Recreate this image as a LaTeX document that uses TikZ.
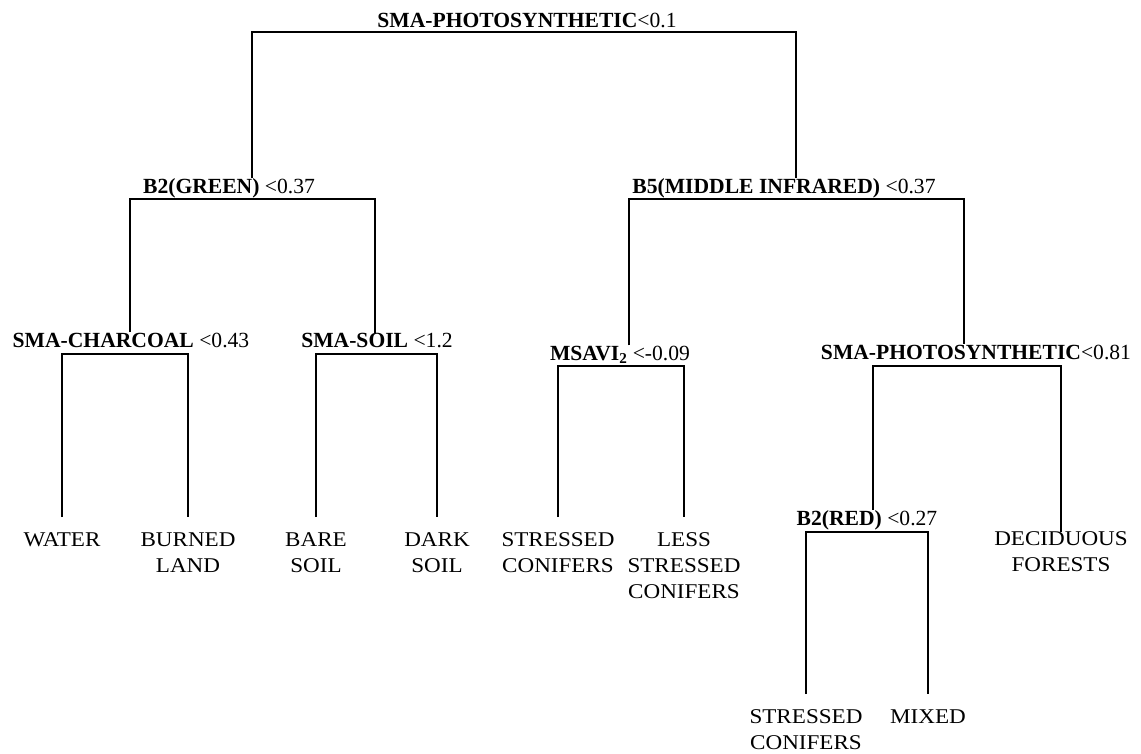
\documentclass[tikz,border=0pt]{standalone}
\usepackage{fontspec}
\setmainfont{Liberation Serif}
\newfontfamily\leaffont[FakeStretch=1.1]{Liberation Serif}
\usepackage{tikz}

\begin{document}
\begin{tikzpicture}[x=1pt, y=-1pt]
  % ------- styles -------
  \tikzstyle{split}=[inner sep=0pt, anchor=base, font=\fontsize{21.6}{24}\selectfont]
  \tikzstyle{leaf}=[inner sep=0pt, outer ysep=16pt, anchor=north, align=center, font=\leaffont\fontsize{21}{26}\selectfont]
  \tikzstyle{branch}=[draw, line width=1.1pt]

  \useasboundingbox (0,0) rectangle (1141,753);

  % ------- split nodes -------
  \node[split] (root)     at (527,27)  {\textbf{SMA-PHOTOSYNTHETIC}<0.1};
  \node[split] (green)    at (229,193) {\textbf{B2(GREEN)} <0.37};
  \node[split] (infra)    at (784,193) {\textbf{B5(MIDDLE INFRARED)} <0.37};
  \node[split] (charcoal) at (131,347) {\textbf{SMA-CHARCOAL} <0.43};
  \node[split] (soil)     at (377,347) {\textbf{SMA-SOIL} <1.2};
  \node[split] (msavi)    at (620,360) {\textbf{MSAVI\textsubscript{2}} <-0.09};
  \node[split] (photo)    at (976,359) {\textbf{SMA-PHOTOSYNTHETIC}<0.81};
  \node[split] (red)      at (867,525) {\textbf{B2(RED)} <0.27};

  % ------- leaves -------
  \node[leaf] (water)    at (62,517)  {WATER};
  \node[leaf] (burned)   at (188,517) {BURNED\\LAND};
  \node[leaf] (bare)     at (316,517) {BARE\\SOIL};
  \node[leaf] (dark)     at (437,517) {DARK\\SOIL};
  \node[leaf] (stressA)  at (558,517) {STRESSED\\CONIFERS};
  \node[leaf] (less)     at (684,517) {LESS\\STRESSED\\CONIFERS};
  \node[leaf, outer ysep=0pt] (decid) at (1061,532) {DECIDUOUS\\FORESTS};
  \node[leaf] (stressB)  at (806,694) {STRESSED\\CONIFERS};
  \node[leaf] (mixed)    at (928,694) {MIXED};

  % ------- branches -------
  \draw[branch] ([xshift=23pt]green.north) |- ([yshift=-5pt]root.base) -| ([xshift=12pt]infra.north);
  \draw[branch] ([xshift=-1pt]charcoal.north) |- ([yshift=-6pt]green.base) -| ([xshift=-2pt]soil.north);
  \draw[branch] ([xshift=9pt]msavi.north) |- ([yshift=-6pt]infra.base) -| ([xshift=-12pt]photo.north);
  \draw[branch] (water) |- ([yshift=-7pt]charcoal.base) -| (burned);
  \draw[branch] (bare) |- ([yshift=-7pt]soil.base) -| (dark);
  \draw[branch] (stressA) |- ([yshift=-6pt]msavi.base) -| (less);
  \draw[branch] ([xshift=6pt]red.north) |- ([yshift=-7pt]photo.base) -| (decid);
  \draw[branch] (stressB) |- ([yshift=-7pt]red.base) -| (mixed);
\end{tikzpicture}
\end{document}
